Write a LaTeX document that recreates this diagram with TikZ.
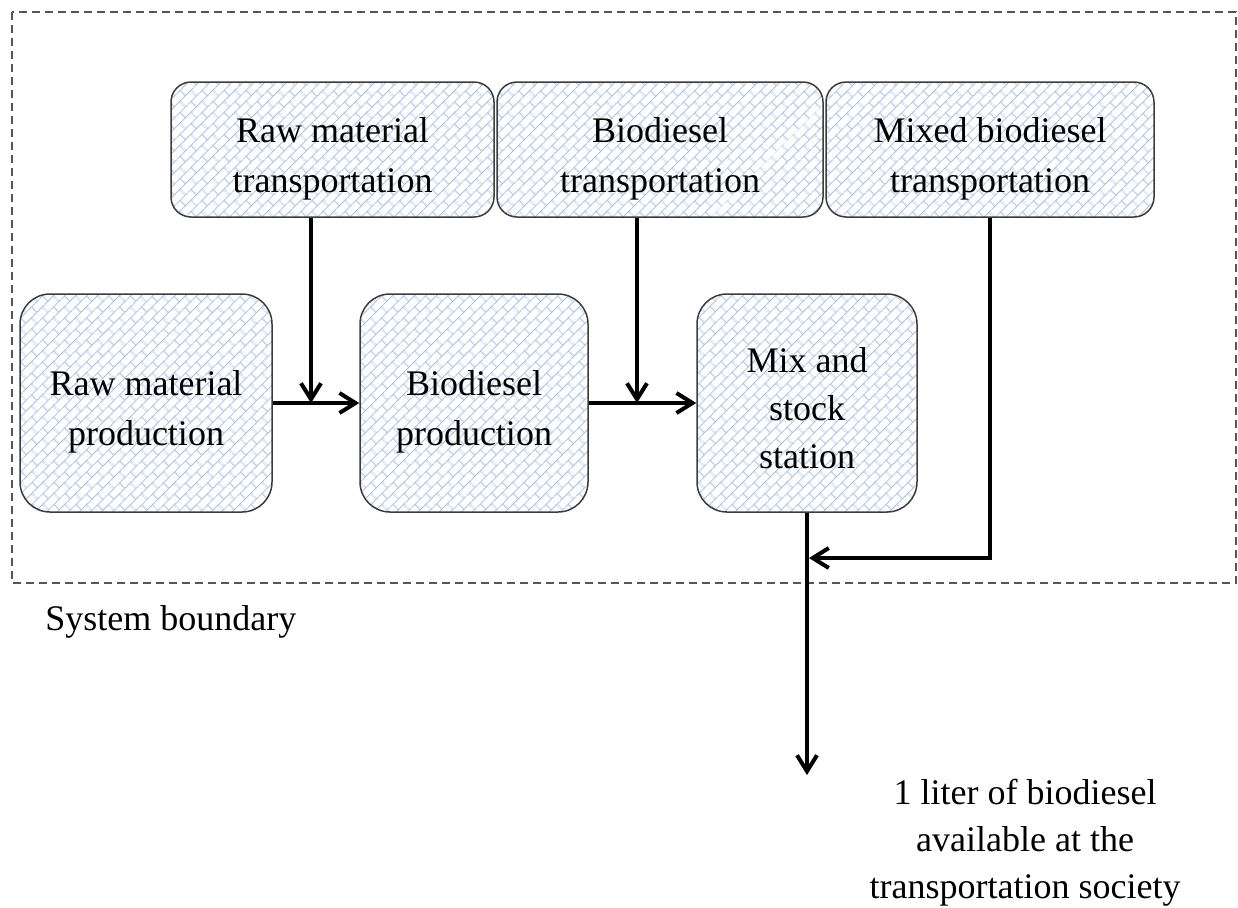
\documentclass[tikz,border=0pt]{standalone}
\usepackage{fontspec}
\setmainfont{Liberation Serif}
\usetikzlibrary{arrows.meta,patterns.meta}
\definecolor{brickblue}{RGB}{170,194,224}
\definecolor{boxline}{RGB}{60,60,60}
\definecolor{dashgray}{RGB}{85,85,85}
\tikzdeclarepattern{
  name=dbricks,
  type=uncolored,
  bottom left={(0pt,0pt)},
  top right={(8pt,8pt)},
  tile size={(8pt,8pt)},
  tile transformation={rotate=45},
  code={
    \draw[line width=0.5pt] (0pt,2pt) -- (8pt,2pt);
    \draw[line width=0.5pt] (0pt,6pt) -- (8pt,6pt);
    \draw[line width=0.5pt] (2pt,2pt) -- (2pt,6pt);
    \draw[line width=0.5pt] (6pt,6pt) -- (6pt,8pt);
    \draw[line width=0.5pt] (6pt,0pt) -- (6pt,2pt);
  }
}
\tikzset{
  procbox/.style={draw=boxline, line width=0.75pt, pattern={dbricks}, pattern color=brickblue,
    inner sep=0pt},
  topbox/.style={procbox, rounded corners=10pt, minimum height=67.5pt},
  lowbox/.style={procbox, rounded corners=15pt, minimum height=109pt},
  arr/.style={line width=2pt, -{Straight Barb[length=8pt,width=10pt]}},
  plain/.style={font=\fontsize{18}{25}\selectfont, align=center, inner sep=0pt}
}
\begin{document}
\begin{tikzpicture}[x=0.5pt,y=-0.5pt]
\useasboundingbox (0,0) rectangle (1238,907);
% system boundary
\draw[dashgray, line width=0.75pt, dash pattern=on 4pt off 2.5pt] (12,12) rectangle (1236,583);
\node[plain, anchor=west] (sb) at (45,622) {System boundary};
% top boxes
\node[topbox, minimum width=161.5pt] (rmt) at (332.5,149.5) {};
\node[topbox, minimum width=163pt] (bt) at (660,149.5) {};
\node[topbox, minimum width=164pt] (mbt) at (990,149.5) {};
\node[plain] (rmt-t) at ([yshift=-4.5pt]rmt.center) {Raw material\\transportation};
\node[plain] (bt-t) at ([yshift=-4.5pt]bt.center) {Biodiesel\\transportation};
\node[plain] (mbt-t) at ([yshift=-4.5pt]mbt.center) {Mixed biodiesel\\transportation};
% lower boxes
\node[lowbox, minimum width=126pt] (rmp) at (146,403) {};
\node[lowbox, minimum width=114pt] (bp) at (474,403) {};
\node[lowbox, minimum width=110pt] (mss) at (807,403) {};
\node[plain] (rmp-t) at ([yshift=-4.5pt]rmp.center) {Raw material\\production};
\node[plain] (bp-t) at ([yshift=-4.5pt]bp.center) {Biodiesel\\production};
\node[plain, font=\fontsize{18}{24}\selectfont] (mss-t) at ([yshift=-2.5pt]mss.center) {Mix and\\stock\\station};
% junction coordinates
\coordinate (j1) at (311,403);
\coordinate (j2) at (637,403);
\coordinate (j3) at (809,558);
\coordinate (out) at (807,775);
% connectors
\draw[arr] (rmp.east) -- (bp.west);
\draw[arr] (bp.east) -- (mss.west);
\draw[arr] (rmt.south -| j1) -- (j1);
\draw[arr] (bt.south -| j2) -- (j2);
\draw[arr] (mbt.south) |- (j3);
\draw[arr] (mss.south) -- (out);
\node[plain, font=\fontsize{18}{23.5}\selectfont] (fu) at (1025,843) {1 liter of biodiesel\\available at the\\transportation society};
\end{tikzpicture}
\end{document}
